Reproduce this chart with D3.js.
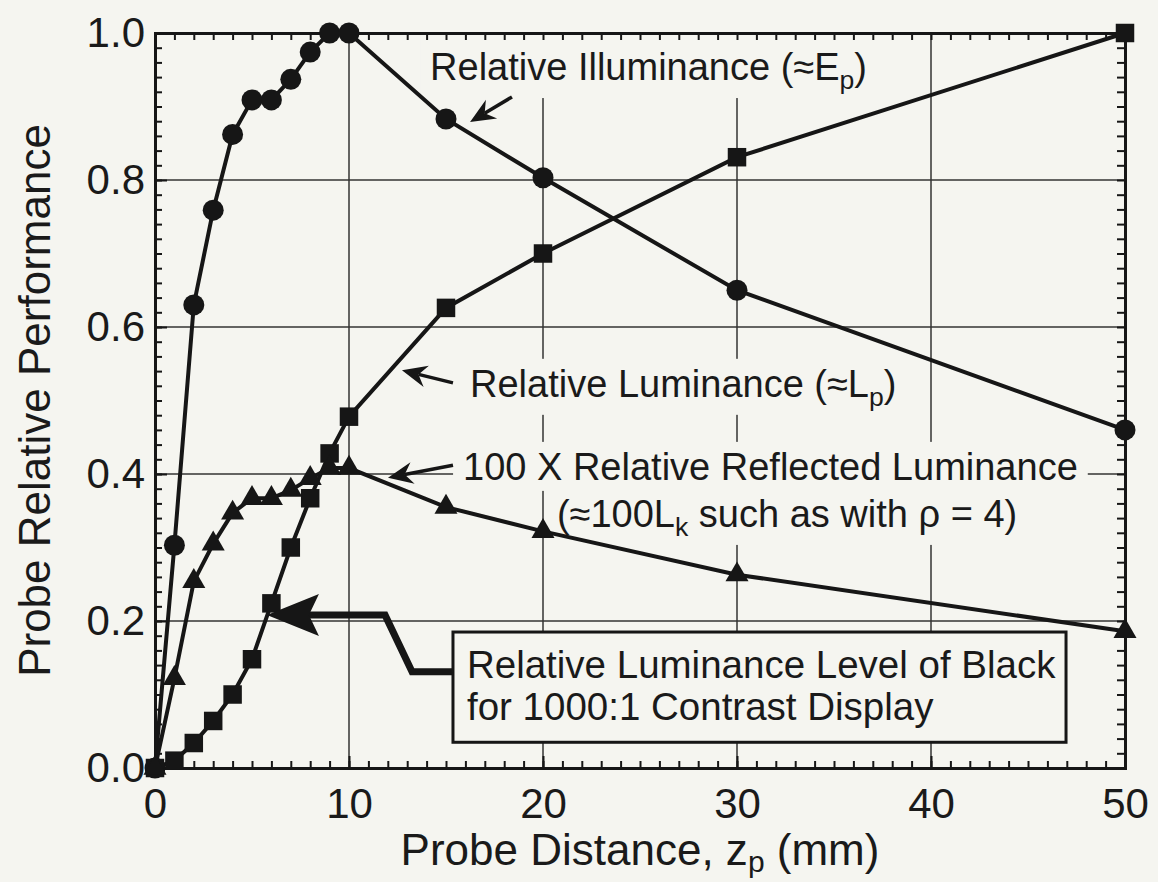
<!DOCTYPE html>
<html>
<head>
<meta charset="utf-8">
<script src="https://cdn.jsdelivr.net/npm/d3@7"></script>
<style>
  body { margin: 0; background: #f5f5f0; }
  svg { display: block; font-family: "Liberation Sans", Arial, sans-serif; }
</style>
</head>
<body>
<div id="chart"></div>
<script>
/*------------------------------
 DATA
 ----------------------------*/
const DISTANCE = [0, 1, 2, 3, 4, 5, 6, 7, 8, 9, 10, 15, 20, 30, 50];
const ILLUMINANCE = [0, 0.303, 0.63, 0.759, 0.862, 0.909, 0.909, 0.937, 0.974, 1.0, 1.0, 0.883, 0.803, 0.65, 0.46];
const LUMINANCE = [0, 0.01, 0.034, 0.064, 0.10, 0.148, 0.224, 0.30, 0.367, 0.428, 0.478, 0.626, 0.70, 0.831, 1.0];
const REFLECTED = [0, 0.122, 0.254, 0.305, 0.347, 0.367, 0.367, 0.378, 0.394, 0.408, 0.408, 0.355, 0.322, 0.263, 0.186];
const X_TICKS = [0, 10, 20, 30, 40, 50];
const Y_TICKS = [0, 0.2, 0.4, 0.6, 0.8, 1.0];

/*------------------------------
 GLOBAL CONSTANTS
 ----------------------------*/
const SVG_WIDTH = 1158;
const SVG_HEIGHT = 882;
const MARGIN = {top: 33, right: 33, bottom: 114, left: 155};
const WIDTH = SVG_WIDTH - MARGIN.left - MARGIN.right;
const HEIGHT = SVG_HEIGHT - MARGIN.top - MARGIN.bottom;
const INK = "#161616";
const TEXT = "#1a1a1a";
const BG = "#f5f5f0";

const svg = d3.select("#chart").append("svg")
    .attr("width", SVG_WIDTH).attr("height", SVG_HEIGHT);
svg.append("rect").attr("width", SVG_WIDTH).attr("height", SVG_HEIGHT).attr("fill", BG);
const chartGroup = svg.append("g").attr("transform", `translate(${MARGIN.left}, ${MARGIN.top})`);

const x = d3.scaleLinear().domain([0, 50]).range([0, WIDTH]);
const y = d3.scaleLinear().domain([0, 1]).range([HEIGHT, 0]);

const gridLayer = chartGroup.append("g");
const bgLayer = chartGroup.append("g");
const axisLayer = chartGroup.append("g");
const dataLayer = chartGroup.append("g");
const textLayer = chartGroup.append("g");

/*------------------------------
 GRID
 ----------------------------*/
gridLayer.selectAll("line.vx").data(X_TICKS.slice(1, -1)).enter().append("line")
    .attr("x1", d => x(d)).attr("x2", d => x(d)).attr("y1", 0).attr("y2", HEIGHT)
    .attr("stroke", "#333").attr("stroke-width", 1.5);
gridLayer.selectAll("line.hy").data(Y_TICKS.slice(1, -1)).enter().append("line")
    .attr("y1", d => y(d)).attr("y2", d => y(d)).attr("x1", 0).attr("x2", WIDTH)
    .attr("stroke", "#333").attr("stroke-width", 1.5);

/*------------------------------
 AXES
 ----------------------------*/
const xMinor = d3.range(0, 51, 1);
const yMinor = d3.range(0, 51, 1).map(i => i / 50);

function styleAxis(g) {
    g.select(".domain").attr("stroke", INK).attr("stroke-width", 3);
    g.selectAll(".tick line").attr("stroke", INK).attr("stroke-width", 2);
    g.selectAll(".tick text").attr("fill", TEXT).style("font-size", "42px")
        .style("font-family", "'Liberation Sans', Arial, sans-serif");
}

axisLayer.append("g").attr("transform", `translate(0, ${HEIGHT})`)
    .call(d3.axisBottom(x).tickValues(xMinor).tickSize(-7).tickFormat("")).call(styleAxis);
axisLayer.append("g").attr("transform", `translate(0, ${HEIGHT})`)
    .call(d3.axisBottom(x).tickValues(X_TICKS).tickSizeInner(-12).tickSizeOuter(0)
        .tickPadding(20).tickFormat(d3.format("d"))).call(styleAxis);
axisLayer.append("g")
    .call(d3.axisTop(x).tickValues(xMinor).tickSize(-7).tickFormat("")).call(styleAxis);
axisLayer.append("g")
    .call(d3.axisLeft(y).tickValues(yMinor).tickSize(-7).tickFormat("")).call(styleAxis);
axisLayer.append("g")
    .call(d3.axisLeft(y).tickValues(Y_TICKS).tickSizeInner(-12).tickSizeOuter(0)
        .tickPadding(10).tickFormat(d3.format(".1f"))).call(styleAxis);
axisLayer.append("g").attr("transform", `translate(${WIDTH}, 0)`)
    .call(d3.axisRight(y).tickValues(yMinor).tickSize(-8).tickFormat("")).call(styleAxis);

// axis titles
const xTitle = chartGroup.append("text").attr("x", WIDTH / 2).attr("y", 832)
    .attr("text-anchor", "middle").attr("font-size", 44).attr("fill", TEXT);
xTitle.append("tspan").text("Probe Distance, z");
xTitle.append("tspan").attr("font-size", 30).attr("dy", 7).text("p");
xTitle.append("tspan").attr("dy", -7).text(" (mm)");

chartGroup.append("text")
    .attr("transform", `translate(${50 - MARGIN.left}, ${HEIGHT / 2}) rotate(-90)`)
    .attr("text-anchor", "middle").attr("font-size", 44).attr("fill", TEXT)
    .text("Probe Relative Performance");

/*------------------------------
 DATA LINES + MARKERS
 ----------------------------*/
const series = [
    {values: ILLUMINANCE, shape: "circle"},
    {values: LUMINANCE, shape: "square"},
    {values: REFLECTED, shape: "triangle"}
];
const line = d3.line().x(d => x(d[0])).y(d => y(d[1]));

series.forEach(s => {
    const pts = DISTANCE.map((d, i) => [d, s.values[i]]);
    dataLayer.append("path").datum(pts).attr("d", line)
        .attr("fill", "none").attr("stroke", INK).attr("stroke-width", 4);
});
series.forEach(s => {
    const pts = DISTANCE.map((d, i) => [d, s.values[i]]);
    const sym = s.shape === "circle" ? d3.symbol(d3.symbolCircle, Math.PI * 10.5 * 10.5)
        : s.shape === "square" ? d3.symbol(d3.symbolSquare, 18.5 * 18.5)
        : d3.symbol(d3.symbolTriangle, 230);
    dataLayer.selectAll(null).data(pts).enter().append("path")
        .attr("transform", d => `translate(${x(d[0])}, ${y(d[1])})`)
        .attr("d", sym).attr("fill", INK);
});

/*------------------------------
 ANNOTATIONS
 ----------------------------*/
function addLabel(xv, yv, parts, size) {
    const t = textLayer.append("text").attr("x", x(xv)).attr("y", y(yv))
        .attr("font-size", size).attr("fill", TEXT);
    let shift = 0;
    parts.forEach(p => {
        if (p.sub) {
            t.append("tspan").attr("font-size", size * 0.7).attr("dy", 9).text(p.sub);
            shift = -9;
        } else {
            const ts = t.append("tspan").text(p.text);
            if (shift) { ts.attr("dy", shift); shift = 0; }
        }
    });
    return t;
}

function addBackground(t, padX, padTop, padBottom) {
    const b = t.node().getBBox();
    bgLayer.append("rect").attr("x", b.x - padX).attr("y", b.y - padTop)
        .attr("width", b.width + 2 * padX).attr("height", b.height + padTop + padBottom)
        .attr("fill", BG);
}

function arrow(p1, p2, len, half, notch, width) {
    const x1 = x(p1[0]), y1 = y(p1[1]), x2 = x(p2[0]), y2 = y(p2[1]);
    const dx = x2 - x1, dy = y2 - y1, L = Math.hypot(dx, dy);
    const ux = dx / L, uy = dy / L, px = -uy, py = ux;
    const bx = x2 - ux * len, by = y2 - uy * len;
    const nx = x2 - ux * notch, ny = y2 - uy * notch;
    textLayer.append("line").attr("x1", x1).attr("y1", y1).attr("x2", nx).attr("y2", ny)
        .attr("stroke", INK).attr("stroke-width", width);
    textLayer.append("path")
        .attr("d", `M${x2},${y2}L${bx + px * half},${by + py * half}L${nx},${ny}L${bx - px * half},${by - py * half}Z`)
        .attr("fill", INK);
}

const l1 = addLabel(14.18, 0.936, [{text: "Relative Illuminance (≈E"}, {sub: "p"}, {text: ")"}], 38);
const l2 = addLabel(16.24, 0.505, [{text: "Relative Luminance (≈L"}, {sub: "p"}, {text: ")"}], 38);
const l3 = addLabel(15.88, 0.392, [{text: "100 X Relative Reflected Luminance"}], 38);
const l4 = addLabel(20.72, 0.328, [{text: "(≈100L"}, {sub: "k"}, {text: " such as with ρ = 4)"}], 38);
addBackground(l1, 10, 14, 3);
addBackground(l2, 10, 4, 3);
addBackground(l3, 10, 4, 3);
addBackground(l4, 10, 4, 3);

arrow([18.4, 0.913], [16.24, 0.879], 25, 11, 17, 3.5);
arrow([15.36, 0.524], [12.73, 0.541], 25, 11, 17, 3.5);
arrow([15.36, 0.412], [12.01, 0.395], 25, 11, 17, 3.5);

// black-level callout box
const box = {x0: 15.36, x1: 46.96, y0: 0.185, y1: 0.035};
textLayer.append("rect")
    .attr("x", x(box.x0)).attr("y", y(box.y0))
    .attr("width", x(box.x1) - x(box.x0)).attr("height", y(box.y1) - y(box.y0))
    .attr("fill", BG).attr("stroke", INK).attr("stroke-width", 3);
addLabel(16.08, 0.122, [{text: "Relative Luminance Level of Black"}], 38.5);
addLabel(16.08, 0.065, [{text: "for 1000:1 Contrast Display"}], 38.5);

// pointer from the box to the curve
const pointer = [[15.36, 0.131], [13.25, 0.131], [11.86, 0.208], [7.6, 0.208]];
textLayer.append("path").datum(pointer).attr("d", line)
    .attr("fill", "none").attr("stroke", INK).attr("stroke-width", 7).attr("stroke-linejoin", "miter");
arrow([7.6, 0.208], [5.77, 0.208], 52, 21, 42, 7);
</script>
</body>
</html>
